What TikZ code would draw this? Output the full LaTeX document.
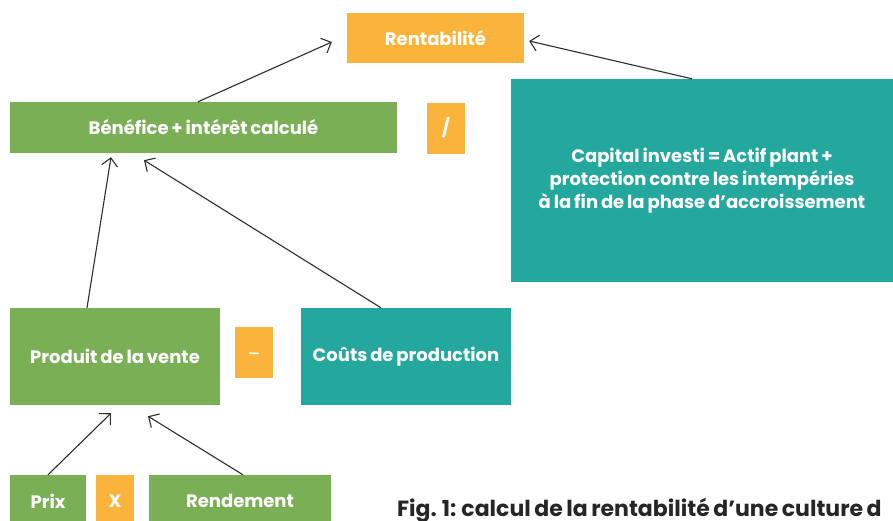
\documentclass[tikz,border=0pt]{standalone}
\usepackage{fontspec}
\setmainfont{Poppins}[WordSpace=0.75]
\newfontfamily\symbole{DejaVu Sans}
\usetikzlibrary{arrows.meta}
\definecolor{vertboite}{RGB}{123,175,85}
\definecolor{orangeop}{RGB}{251,180,59}
\definecolor{tealboite}{RGB}{36,168,157}
\definecolor{trait}{RGB}{45,45,45}
\tikzset{
	boite/.style={inner sep=0pt, align=center, text=white, font=\fontsize{18}{23}\selectfont\bfseries},
	vert/.style={boite, fill=vertboite},
	teal/.style={boite, fill=tealboite},
	oper/.style={boite, fill=orangeop, minimum width=38pt, minimum height=51pt},
	fleche/.style={draw=trait, line width=1.1pt, -{Straight Barb[length=8pt,width=16pt]}}
}
\begin{document}
\begin{tikzpicture}[x=1pt,y=-1pt]
	\useasboundingbox (0,0) rectangle (893,520);
	% les boites
	\node[boite, fill=orangeop, minimum width=177pt, minimum height=50pt] (renta) at (435.5,38) {Rentabilité};
	\node[teal, minimum width=382pt, minimum height=203pt] (capital) at (702,180.5) {Capital investi = Actif plant +\\protection contre les intempéries\\à la fin de la phase d’accroissement};
	\node[vert, minimum width=387pt, minimum height=51pt] (benefice) at (203.5,127.5) {Bénéfice + intérêt calculé};
	\node[oper] (div) at (446,128) {/};
	\node[vert, minimum width=210pt, minimum height=97pt] (produit) at (115,356.5) {Produit de la vente};
	\node[oper, font=\fontsize{15}{16}\selectfont\symbole\bfseries] (moins) at (254,352.5) {\raisebox{-6pt}[0pt][0pt]{−}};
	\node[teal, minimum width=210pt, minimum height=97pt] (couts) at (406,356.5) {Coûts de production};
	\node[vert, minimum width=76pt, minimum height=52pt] (prix) at (48,501) {Prix};
	\node[oper, minimum height=52pt] (fois) at (115,501) {X};
	\node[vert, minimum width=182pt, minimum height=52pt] (rendement) at (240,501) {Rendement};
	% les fleches
	\draw[fleche] ([shift={(-5.5,0)}]benefice.north) -- ([shift={(-15,4)}]renta.west);
	\draw[fleche] ([shift={(-10,0)}]capital.north) -- ([shift={(5,3)}]renta.east);
	\draw[fleche] ([shift={(-28,0)}]produit.north) -- ([shift={(-92.5,4)}]benefice.south);
	\draw[fleche] ([shift={(-25,0)}]couts.north) -- ([shift={(-59.5,7)}]benefice.south);
	\draw[fleche] (prix.north) -- ([shift={(-4,8)}]produit.south);
	\draw[fleche] ([shift={(3,0)}]rendement.north) -- ([shift={(33,11)}]produit.south);
	% la legende
	\node[anchor=base west, inner sep=0pt, text=black!85, font=\fontsize{22}{24}\selectfont\bfseries] (legende) at (397,516) {Fig. 1: calcul de la rentabilité d’une culture d};
\end{tikzpicture}
\end{document}
